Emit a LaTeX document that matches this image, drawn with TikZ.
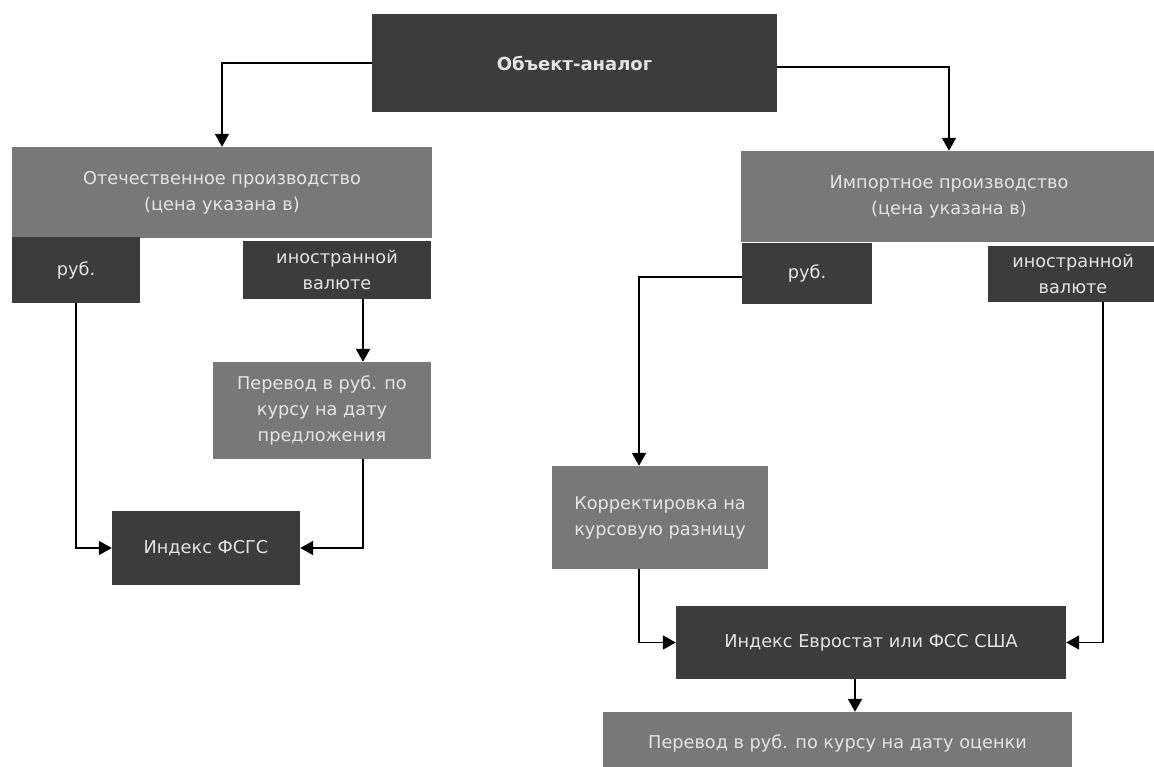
\documentclass[tikz,border=0pt]{standalone}
\usepackage{fontspec}
\setmainfont{DejaVu Sans}
\usetikzlibrary{arrows.meta}
\definecolor{darkbox}{RGB}{60,60,60}
\definecolor{greybox}{RGB}{120,120,120}
\definecolor{boxtext}{RGB}{228,228,228}
\tikzset{
  box/.style={rectangle, inner sep=0pt, align=center, text=boxtext,
    font=\fontsize{17.7}{26}\selectfont},
  dbox/.style={box, fill=darkbox},
  gbox/.style={box, fill=greybox},
  arr/.style={draw=black, line width=1.8pt, -{Triangle[length=13pt,width=14pt]}},
  ln/.style={draw=black, line width=1.8pt}
}
\begin{document}
\begin{tikzpicture}[x=1pt,y=-1pt]
\useasboundingbox (0,0) rectangle (1154,767);
\clip (0,0) rectangle (1154,767);
\fill[white] (0,0) rectangle (1154,767);
% nodes
\node[dbox, minimum width=405pt, minimum height=98pt, font=\fontsize{18}{26}\selectfont\bfseries] (top) at (574.5,63) {Объект-аналог};
\node[gbox, minimum width=420pt, minimum height=91pt] (dom) at (222,192.5) {Отечественное производство\\(цена указана в)};
\node[gbox, minimum width=416pt, minimum height=91pt] (imp) at (949,196.5) {Импортное производство\\(цена указана в)};
\node[dbox, minimum width=128pt, minimum height=66pt] (rubL) at (76,270) {руб.};
\node[dbox, minimum width=188pt, minimum height=58pt] (valL) at (337,270) {иностранной\\валюте};
\node[dbox, minimum width=130pt, minimum height=61pt] (rubR) at (807,273.5) {руб.};
\node[dbox, minimum width=170pt, minimum height=56pt] (valR) at (1073,274) {иностранной\\валюте};
\node[gbox, minimum width=218pt, minimum height=97pt] (perL) at (322,410.5) {Перевод в руб. по\\курсу на дату\\предложения};
\node[dbox, minimum width=188pt, minimum height=74pt] (fsgs) at (206,548) {Индекс ФСГС};
\node[gbox, minimum width=216pt, minimum height=103pt] (korr) at (660,517.5) {Корректировка на\\курсовую разницу};
\node[dbox, minimum width=390pt, minimum height=73pt] (euro) at (871,642.5) {Индекс Евростат или ФСС США};
\node[gbox, minimum width=469pt, minimum height=63pt] (perR) at (837.5,743.5) {Перевод в руб. по курсу на дату оценки};
% helper x-positions
\coordinate (cx1) at (363,0);
\coordinate (cx2) at (639,0);
\coordinate (cx3) at (1103,0);
\coordinate (cx4) at (855,0);
% connectors
\draw[arr] (top.west) -| (dom.north);
\draw[arr] ([yshift=-4pt]top.east) -| (imp.north);
\draw[arr] (rubL.south) |- (fsgs.west);
\draw[arr] (valL.south -| cx1) -- (perL.north -| cx1);
\draw[arr] (perL.south -| cx1) |- (fsgs.east);
\draw[arr] ([yshift=-3.5pt]rubR.west) -| (korr.north -| cx2);
\draw[arr] (korr.south -| cx2) |- (euro.west);
\draw[arr] (valR.south -| cx3) |- (euro.east);
\draw[arr] (euro.south -| cx4) -- (perR.north -| cx4);
\end{tikzpicture}
\end{document}
